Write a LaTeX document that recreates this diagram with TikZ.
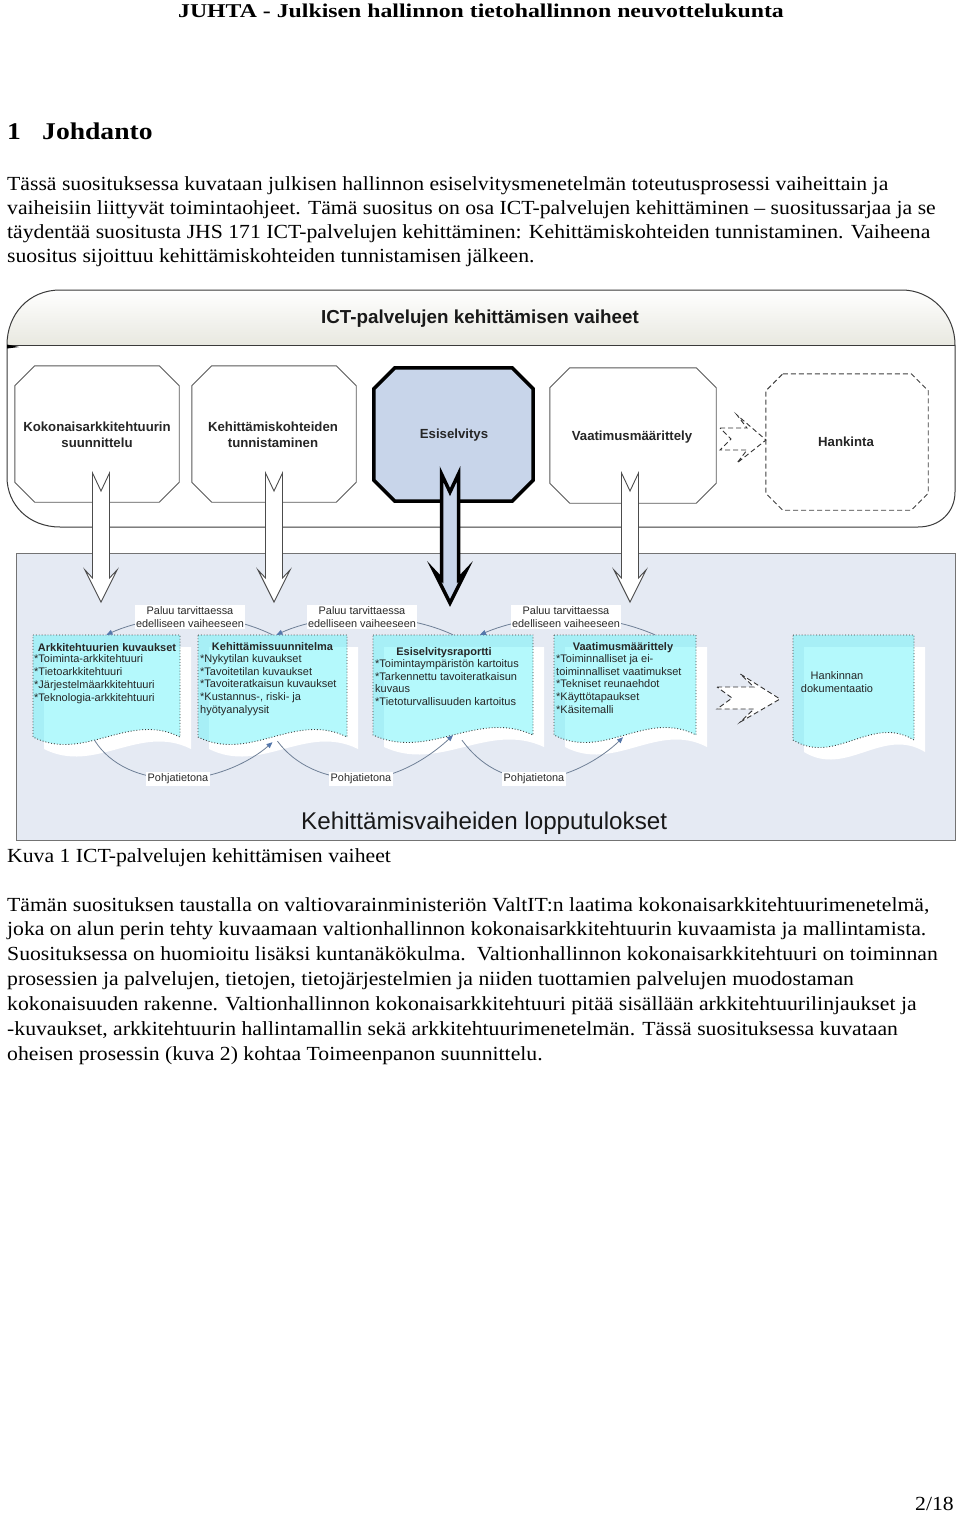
\documentclass[tikz,border=0pt]{standalone}
\usepackage{fontspec}
\setmainfont{Liberation Serif}
\newfontfamily\bodyf{Liberation Serif}[FakeStretch=1.085]
\newfontfamily\hdrf{Liberation Serif}[FakeStretch=1.22]
\newfontfamily\headf{Liberation Serif}[FakeStretch=1.15]
\newfontfamily\arialf{Liberation Sans}
\usetikzlibrary{calc,fit,arrows.meta}
\pgfdeclarelayer{bg}
\pgfdeclarelayer{mid}
\pgfsetlayers{bg,mid,main}

\definecolor{panelline}{HTML}{3A3A3A}
\definecolor{bandbot}{HTML}{E8E8E0}
\definecolor{esifill}{HTML}{C8D5EA}
\definecolor{lowbg}{HTML}{E5EAF3}
\definecolor{docc}{rgb}{0.42,0.96,0.98}
\definecolor{conn}{HTML}{6E7F96}
\definecolor{arrowblue}{HTML}{5577AA}
\definecolor{labtext}{HTML}{2A2A2A}

% octagon around a named node: name, chamfer, style
\newcommand\octa[3]{%
  \draw[#3] ($(#1.north west)+(#2,0)$) -- ($(#1.north east)+(-#2,0)$) -- ($(#1.north east)+(0,#2)$) -- ($(#1.south east)+(0,-#2)$) -- ($(#1.south east)+(-#2,0)$) -- ($(#1.south west)+(#2,0)$) -- ($(#1.south west)+(0,-#2)$) -- ($(#1.north west)+(0,#2)$) -- cycle;}
% block arrow pointing down: cx, top, tip, style
\newcommand\downarr[4]{%
  \draw[#4] ({#1-8.5},#2) -- (#1,{#2+18}) -- ({#1+8.5},#2) -- ({#1+8.5},{#3-24}) -- ({#1+16},{#3-32}) -- (#1,#3) -- ({#1-16},{#3-32}) -- ({#1-8.5},{#3-24}) -- cycle;}
% dashed block arrow pointing right: x, y, xscale
\newcommand\dasharr[3]{%
  \begin{scope}[shift={(#1,#2)}, xscale=#3]
  \draw[dasharrow] (0,-11) -- (27,-11) -- (17,-24) -- (46,1) -- (17,24) -- (27,11) -- (0,11) -- (11,0) -- cycle;
  \end{scope}}
% document path: style, x1, y1, x2, yb
\newcommand\docdraw[5]{\path[#1] (#2,#3) -- (#4,#3) -- (#4,#5) .. controls ({#4-0.35*(#4-#2)},{#5-26}) and ({#2+0.35*(#4-#2)},{#5+26}) .. (#2,#5) -- cycle;}
% document shape with shadow: name, x1, y1, x2, yb
\newcommand\docshape[5]{%
  \begin{pgfonlayer}{bg}
  \begin{scope}[shift={(11,12)}]\docdraw{fill=white}{#2}{#3}{#4}{#5}\end{scope}
  \docdraw{fill=docc, fill opacity=0.5}{#2}{#3}{#4}{#5}
  \docdraw{docborder}{#2}{#3}{#4}{#5}
  \end{pgfonlayer}
  \node[fit={(#2,#3) (#4,#5)}, inner sep=0pt] (#1) {};}

\begin{document}
\begin{tikzpicture}[x=1pt,y=-1pt,
 body/.style={anchor=base west, inner sep=0pt, font=\bodyf\fontsize{20}{24}\selectfont},
 phasebox/.style={draw=black!65, line width=0.9pt, fill=white},
 phasetext/.style={font=\arialf\bfseries\fontsize{13.2}{15.8}\selectfont, align=center, inner sep=0pt, text=black!85},
 blockarrow/.style={draw=black!70, line width=0.9pt, fill=white, line join=miter},
 esiarrow/.style={draw=black, line width=3.5pt, fill=esifill, line join=miter},
 dasharrow/.style={draw=black!80, dash pattern=on 5pt off 3pt, line width=0.9pt, fill=white},
 docborder/.style={draw=black!75, dotted, line width=0.9pt},
 doctext/.style={font=\arialf\fontsize{11}{12.9}\selectfont, inner sep=0pt, align=left, text=black!85, anchor=north west},
 dochead/.style={font=\arialf\bfseries\fontsize{11}{12.9}\selectfont, inner sep=0pt, anchor=base, text=black!85},
 labelbox/.style={fill=white, inner sep=1.5pt, font=\arialf\fontsize{10.9}{12.3}\selectfont, align=center, text=labtext},
 ret/.style={draw=conn, line width=0.8pt, -{Triangle[length=6pt,width=5pt,color=arrowblue]}},
]
\useasboundingbox (0,0) rectangle (960,1513);
\begin{pgfonlayer}{bg}
\fill[white] (0,0) rectangle (960,1513);
\end{pgfonlayer}

% ---------- page text ----------
\node[anchor=base, inner sep=0pt, font=\hdrf\bfseries\fontsize{19.5}{22}\selectfont] (hdr) at (481,17) {JUHTA - Julkisen hallinnon tietohallinnon neuvottelukunta};
\node[anchor=base west, inner sep=0pt, font=\headf\bfseries\fontsize{24}{28}\selectfont] (hnum) at (7,139.5) {1};
\node[anchor=base west, inner sep=0pt, font=\headf\bfseries\fontsize{24}{28}\selectfont] (htit) at (42,139.5) {Johdanto};
\node[body] (pa1) at (7,190) {Tässä suosituksessa kuvataan julkisen hallinnon esiselvitysmenetelmän toteutusprosessi vaiheittain ja};
\node[body] (pa2) at (7,214.3) {vaiheisiin liittyvät toimintaohjeet. Tämä suositus on osa ICT-palvelujen kehittäminen – suositussarjaa ja se};
\node[body] (pa3) at (7,238.6) {täydentää suositusta JHS 171 ICT-palvelujen kehittäminen: Kehittämiskohteiden tunnistaminen. Vaiheena};
\node[body] (pa4) at (7,262.9) {suositus sijoittuu kehittämiskohteiden tunnistamisen jälkeen.};
\node[body] (cap) at (7,862) {Kuva 1 ICT-palvelujen kehittämisen vaiheet};
\node[body] (pb1) at (7,911) {Tämän suosituksen taustalla on valtiovarainministeriön ValtIT:n laatima kokonaisarkkitehtuurimenetelmä,};
\node[body] (pb2) at (7,935.85) {joka on alun perin tehty kuvaamaan valtionhallinnon kokonaisarkkitehtuurin kuvaamista ja mallintamista.};
\node[body] (pb3) at (7,960.7) {Suosituksessa on huomioitu lisäksi kuntanäkökulma.\ \ Valtionhallinnon kokonaisarkkitehtuuri on toiminnan};
\node[body] (pb4) at (7,985.55) {prosessien ja palvelujen, tietojen, tietojärjestelmien ja niiden tuottamien palvelujen muodostaman};
\node[body] (pb5) at (7,1010.4) {kokonaisuuden rakenne. Valtionhallinnon kokonaisarkkitehtuuri pitää sisällään arkkitehtuurilinjaukset ja};
\node[body] (pb6) at (7,1035.25) {-kuvaukset, arkkitehtuurin hallintamallin sekä arkkitehtuurimenetelmän. Tässä suosituksessa kuvataan};
\node[body] (pb7) at (7,1060.1) {oheisen prosessin (kuva 2) kohtaa Toimeenpanon suunnittelu.};
\node[anchor=base east, inner sep=0pt, font=\bodyf\fontsize{20}{24}\selectfont] (pnum) at (954,1510) {2/18};

% ---------- upper panel ----------
\begin{pgfonlayer}{bg}
\path[fill=white] (7,345) .. controls (7,314) and (29,290) .. (60,290) -- (902,290) .. controls (931,290) and (955,314) .. (955,345) -- (955,492) .. controls (955,512) and (940,527) .. (918,527) -- (60,527) .. controls (29,527) and (7,505) .. (7,477) -- cycle;
\path[top color=white, bottom color=bandbot] (7,345) .. controls (7,314) and (29,290) .. (60,290) -- (902,290) .. controls (931,290) and (955,314) .. (955,345) -- cycle;
\draw[panelline, line width=1pt] (7,345) .. controls (7,314) and (29,290) .. (60,290) -- (902,290) .. controls (931,290) and (955,314) .. (955,345) -- (955,492) .. controls (955,512) and (940,527) .. (918,527) -- (60,527) .. controls (29,527) and (7,505) .. (7,477) -- cycle;
\draw[panelline, line width=1pt] (7,345) -- (955,345);
\fill[black] (7,344.5) -- (19,347) -- (7,348.5) -- cycle;
% lower panel
\draw[draw=black!55, line width=1pt, fill=lowbg] (16,553) rectangle (955,840);
\end{pgfonlayer}

\node[anchor=base, inner sep=0pt, font=\arialf\bfseries\fontsize{18.8}{22}\selectfont, text=black!90] (utitle) at (480,323) {ICT-palvelujen kehittämisen vaiheet};
\node[anchor=base west, inner sep=0pt, font=\arialf\fontsize{24.2}{28}\selectfont, text=black!90] (ltitle) at (301,829) {Kehittämisvaiheiden lopputulokset};

% ---------- phase boxes ----------
\node[minimum width=164pt, minimum height=136pt, inner sep=0pt] (p1) at (97,434) {};
\octa{p1}{20}{phasebox}
\node[phasetext] (p1t) at (97,435) {Kokonaisarkkitehtuurin\\suunnittelu};
\node[minimum width=164pt, minimum height=136pt, inner sep=0pt] (p2) at (274,434) {};
\octa{p2}{20}{phasebox}
\node[phasetext] (p2t) at (273,435) {Kehittämiskohteiden\\tunnistaminen};
\node[minimum width=159pt, minimum height=133pt, inner sep=0pt] (p3) at (453.5,434.5) {};
\octa{p3}{21}{draw=black, line width=3.5pt, fill=esifill, line join=miter}
\node[phasetext, anchor=base] (p3t) at (454,438) {Esiselvitys};
\node[minimum width=166pt, minimum height=135pt, inner sep=0pt] (p4) at (633,435.5) {};
\octa{p4}{20}{phasebox}
\node[phasetext, anchor=base] (p4t) at (632,440) {Vaatimusmäärittely};
\node[minimum width=162pt, minimum height=136pt, inner sep=0pt] (p5) at (847,442) {};
\octa{p5}{17}{draw=black!75, dash pattern=on 5pt off 3pt, line width=0.9pt, fill=white}
\node[phasetext, anchor=base] (p5t) at (846,446) {Hankinta};

% ---------- documents ----------
\docshape{d1}{33}{635}{180}{737}
\docshape{d2}{198}{635}{347}{737}
\docshape{d3}{373}{635}{533}{735}
\docshape{d4}{554}{635}{696}{735}
\docshape{d5}{793}{635}{914}{740}

\node[dochead] (d1h) at (107,651) {Arkkitehtuurien kuvaukset};
\node[doctext] (d1b) at (34,654.5) {*Toiminta-arkkitehtuuri\\*Tietoarkkitehtuuri\\*Järjestelmäarkkitehtuuri\\*Teknologia-arkkitehtuuri};
\node[dochead] (d2h) at (272.5,650) {Kehittämissuunnitelma};
\node[doctext] (d2b) at (200,654) {*Nykytilan kuvaukset\\*Tavoitetilan kuvaukset\\*Tavoiteratkaisun kuvaukset\\*Kustannus-, riski- ja\\hyötyanalyysit};
\node[dochead] (d3h) at (444,655) {Esiselvitysraportti};
\node[doctext] (d3b) at (375,659) {*Toimintaympäristön kartoitus\\*Tarkennettu tavoiteratkaisun\\kuvaus\\*Tietoturvallisuuden kartoitus};
\node[dochead] (d4h) at (623,650) {Vaatimusmäärittely};
\node[doctext] (d4b) at (556,654) {*Toiminnalliset ja ei-\\toiminnalliset vaatimukset\\*Tekniset reunaehdot\\*Käyttötapaukset\\*Käsitemalli};
\node[doctext, align=center, anchor=center] (d5t) at (837,682) {Hankinnan\\dokumentaatio};

% ---------- labels & connectors ----------
\node[labelbox] (l1) at (190,617) {Paluu tarvittaessa\\edelliseen vaiheeseen};
\node[labelbox] (l2) at (362,617) {Paluu tarvittaessa\\edelliseen vaiheeseen};
\node[labelbox] (l3) at (566,617) {Paluu tarvittaessa\\edelliseen vaiheeseen};
\node[labelbox] (l4) at (178,779) {Pohjatietona};
\node[labelbox] (l5) at (361,779) {Pohjatietona};
\node[labelbox] (l6) at (534,779) {Pohjatietona};

\begin{pgfonlayer}{mid}
\draw[ret] (d2.north) .. controls (250,624) and (225,617) .. (l1.center) .. controls (160,617) and (130,624) .. (d1.north);
\draw[ret] (d3.north) .. controls (430,624) and (400,617) .. (l2.center) .. controls (330,617) and (300,624) .. ($(d2.north)+(4,0)$);
\draw[ret] ($(d4.north)+(30,0)$) .. controls (630,624) and (600,617) .. (l3.center) .. controls (535,617) and (505,624) .. ($(d3.north)+(27,0)$);
\draw[ret] ($(d1.south)+(-12,3)$) .. controls (110,765) and (140,779) .. (l4.center) .. controls (215,779) and (250,762) .. ($(d2.south)+(0,5)$);
\draw[ret] ($(d2.south)+(5,4)$) .. controls (295,765) and (325,779) .. (l5.center) .. controls (400,779) and (435,752) .. (d3.south);
\draw[ret] ($(d3.south)+(9,5)$) .. controls (480,765) and (505,779) .. (l6.center) .. controls (570,779) and (605,755) .. ($(d4.south)+(-2,2)$);
\end{pgfonlayer}

% ---------- block arrows ----------
\downarr{101}{473}{602}{blockarrow}
\downarr{274}{473}{602}{blockarrow}
\downarr{450}{474}{603}{esiarrow}
\downarr{630}{473}{602}{blockarrow}
\dasharr{720}{439}{1}
\dasharr{717}{698}{1.37}
\end{tikzpicture}
\end{document}
